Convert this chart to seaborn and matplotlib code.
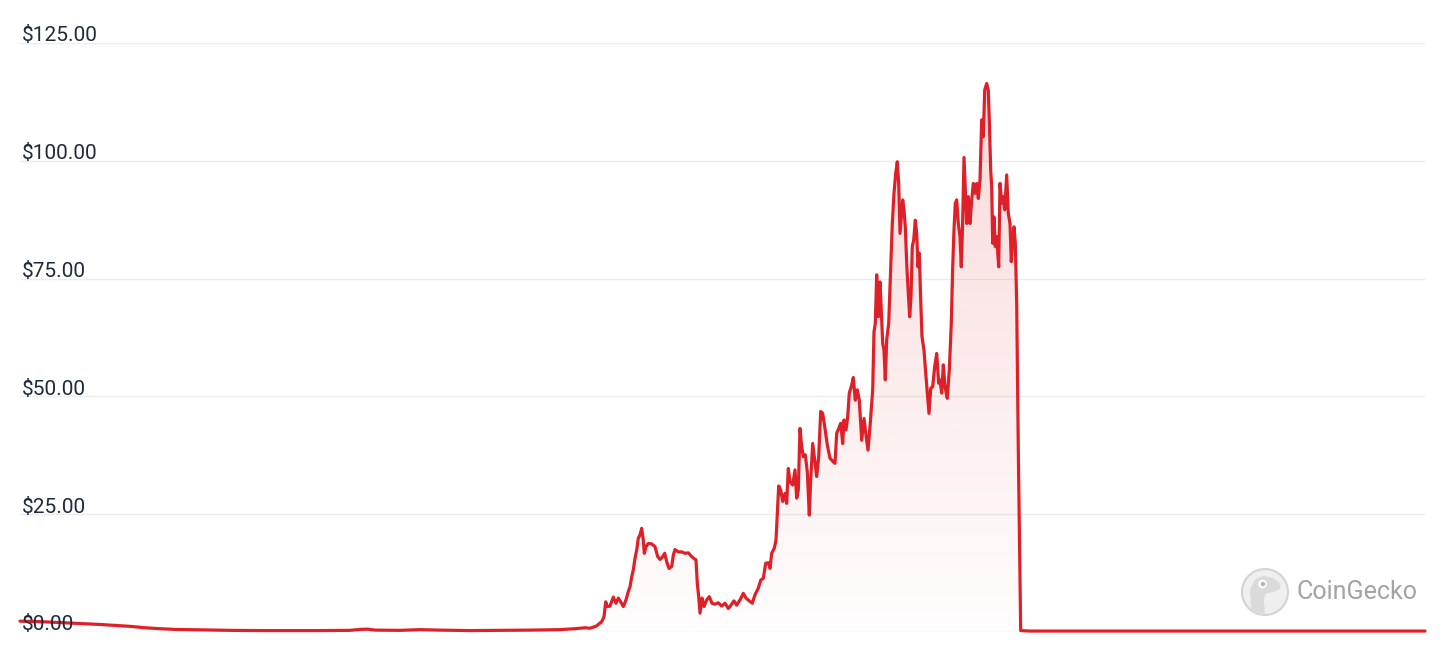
import numpy as np
import pandas as pd
import matplotlib.pyplot as plt
import matplotlib.patches as mpatches
import seaborn as sns

# price history (day index from first point, USD)
days = [0, 20, 40, 60, 80, 95, 110, 125, 140, 155, 180, 210, 240, 270, 300, 330, 340, 348, 355,
        380, 400, 420, 450, 480, 510, 540, 555, 565, 570, 573, 576.7, 581.7, 584, 585.7, 587.3,
        590, 593.3, 596, 598.3, 600.7, 603.3, 606, 608.3, 610, 611.7, 613.3, 615, 616.7, 618.3,
        620, 621.7, 623.3, 624.3, 626, 628.3, 631.7, 635, 637.7, 640, 642.7, 644.7, 646.7, 649,
        651.7, 653.3, 655, 658.3, 661.7, 665, 668.3, 671.7, 674, 676, 677.3, 678.7, 680, 682,
        684, 686.7, 689.3, 692, 695, 698.3, 701.7, 705, 708.3,
        710, 714, 716.7, 720, 723.3, 726, 729.3, 732.3, 735, 738.3, 740.7, 743.3, 745.7, 748.3,
        750, 751.7, 754.3, 756, 757.3, 758.7, 760.7, 762.7, 765, 766.7, 768.3, 770, 772.7, 775,
        776.7, 778.3, 780, 781.7, 783.3, 785.3, 787.3, 789.3, 790.7, 792.7, 794.7, 796.7, 798.7,
        800.7, 802.7, 805, 807.3, 810, 813.3, 815, 816.7, 818.7, 820.7, 822.7, 824, 826, 827.7,
        829.3, 831.7, 833.3, 835.3, 837.3, 839.3,
        841.7, 844, 846, 848, 850, 852.7, 854, 855.3, 856.7, 858.3, 860, 861.3, 862.7, 864,
        865.3, 866.7, 868.7, 870.7, 872.3, 874, 875.7, 877.3, 878.7, 880, 881.3, 882.7, 884,
        885.3, 886.7, 888.3, 889.7, 891, 892.3, 893.7, 895.3, 896.7, 898, 899.3, 900.7, 902,
        904, 906, 907.7, 909, 910.7, 912.7, 914.7, 916.7, 918.7,
        920, 921.7, 923.3, 925, 927.3, 929.3, 931.3, 932.7, 934, 935.3, 936.7, 938.3, 940,
        941.3, 942.7, 944, 945.3, 946.7, 948.3, 950, 951.7, 953.3, 955, 956.7, 958.3, 960,
        961.7, 963.3, 964.7, 966.7, 968.3, 969.3, 970.7, 971.7, 972.7, 974, 975.3, 976.7,
        978.7, 980, 981.7, 983.3, 984.7, 986.7, 988.3, 990, 991.3, 992.7, 994, 995.3, 996.7,
        998.3, 1000.7, 1010, 1405]

prices = [2.3, 2.2, 2.0, 1.8, 1.6, 1.4, 1.2, 0.9, 0.7, 0.55, 0.45, 0.35, 0.3, 0.3, 0.3, 0.35, 0.55,
          0.6, 0.4, 0.35, 0.5, 0.4, 0.3, 0.35, 0.4, 0.5, 0.7, 0.9, 0.8, 1.0, 1.3, 2.2, 3.2, 6.4,
          5.4, 5.5, 7.4, 6.1, 7.2, 6.4, 5.4, 6.8, 8.6, 9.6, 11.7, 13.2, 15.6, 17.4, 19.9, 20.6,
          22.0, 19.5, 16.7, 18.1, 18.8, 18.7, 18.1, 16.0, 15.4, 16.0, 16.7, 14.9, 13.5, 13.9,
          16.3, 17.5, 17.0, 17.0, 16.7, 16.8, 16.0, 15.6, 15.3, 10.3, 7.5, 4.0, 7.2, 5.4, 6.8,
          7.5, 6.1, 5.9, 6.2, 5.5, 6.1, 5.0,
          5.4, 6.6, 5.7, 6.8, 8.2, 7.2, 6.6, 6.1, 7.9, 9.3, 11.0, 11.4, 14.6, 14.7, 13.5, 16.7,
          17.8, 19.5, 25.2, 31.0, 30.1, 27.7, 29.4, 27.3, 34.7, 31.9, 31.2, 34.4, 28.4, 30.1,
          43.2, 39.3, 37.2, 37.6, 34.0, 24.8, 32.3, 40.0, 36.5, 33.0, 37.2, 46.8, 46.4, 43.2,
          39.7, 36.9, 36.1, 35.8, 42.2, 43.2, 44.3, 40.0, 45.0, 42.9, 45.7, 50.7, 52.4, 54.0,
          49.2, 51.4, 49.2,
          40.7, 45.3, 41.8, 38.6, 43.6, 51.4, 63.7, 65.5, 75.8, 66.9, 74.3, 68.3, 61.3, 59.8,
          53.5, 62.0, 65.5, 77.5, 86.7, 93.1, 97.3, 99.8, 95.2, 84.6, 88.1, 91.7, 89.6, 86.0,
          78.2, 71.9, 66.9, 71.2, 81.8, 83.2, 87.4, 84.6, 77.5, 80.4, 70.5, 62.7, 59.8, 54.2,
          49.9, 46.4, 51.7, 52.1, 56.3, 59.1, 52.8,
          53.5, 50.7, 56.7, 52.1, 49.6, 55.6, 65.5, 77.5, 85.3, 91.0, 91.7, 86.7, 83.9, 77.5,
          87.4, 100.7, 93.8, 86.7, 92.4, 86.7, 91.7, 95.2, 93.1, 95.2, 92.0, 95.9, 108.7,
          105.1, 115.0, 116.4, 115.0, 108.7, 98.0, 94.5, 82.5, 88.1, 81.8, 83.9, 77.5, 95.2,
          91.0, 92.4, 89.6, 97.0, 88.8, 86.7, 78.6, 83.2, 86.0, 82.5, 69.7, 38.6, 0.3, 0.2, 0.2]

tick_values = [0, 25, 50, 75, 100, 125]
tick_labels = ["$0.00", "$25.00", "$50.00", "$75.00", "$100.00", "$125.00"]

df = pd.DataFrame({"day": days, "price": prices})

sns.set_style("white")
plt.rcParams["font.family"] = ["Roboto", "DejaVu Sans"]

fig = plt.figure(figsize=(14.56, 6.51), dpi=100)
ax = fig.add_axes([20 / 1456, 1 - 632 / 651, 1405 / 1456, 589 / 651])

red = "#de2128"

# gradient fill under the line
top = df["price"].max()
alpha = np.linspace(0.01, 0.17, 256)
grad = np.zeros((256, 1, 4))
grad[:, 0, 0] = 225 / 255
grad[:, 0, 1] = 30 / 255
grad[:, 0, 2] = 35 / 255
grad[:, 0, 3] = alpha
img = ax.imshow(grad, origin="lower", aspect="auto",
                extent=[df["day"].min(), df["day"].max(), 0, top], zorder=1)
poly = ax.fill_between(df["day"], df["price"], 0, facecolor="none", edgecolor="none")
img.set_clip_path(poly.get_paths()[0], transform=ax.transData)

sns.lineplot(data=df, x="day", y="price", ax=ax, color=red, linewidth=2.3,
             sort=False, estimator=None, zorder=3, clip_on=False)

ax.set_xlim(df["day"].min(), df["day"].max())
ax.set_ylim(0, 125)
ax.set_yticks(tick_values)
ax.set_xticks([])
ax.yaxis.grid(True, color="#ececec", linewidth=1)
ax.tick_params(left=False, labelleft=False, bottom=False, labelbottom=False)
for s in ax.spines.values():
    s.set_visible(False)
ax.set_xlabel("")
ax.set_ylabel("")

trans = ax.get_yaxis_transform()
for v, lab in zip(tick_values, tick_labels):
    ax.text(0.0015, v + 0.35, lab, transform=trans, ha="left", va="baseline",
            fontsize=15, color="#1e2a3b", zorder=5)

# CoinGecko watermark
lax = fig.add_axes([1240 / 1456, 1 - 617 / 651, 50 / 1456, 50 / 651])
lax.set_aspect("equal")
lax.set_xlim(-1, 1)
lax.set_ylim(-1, 1)
lax.axis("off")
lax.add_patch(mpatches.Circle((0, 0), 0.92, facecolor="#efefef", edgecolor="#d4d4d4", linewidth=1.5))
head = [(-0.55, -0.8), (-0.6, 0.1), (-0.4, 0.5), (-0.05, 0.65), (0.35, 0.55), (0.6, 0.35),
        (0.62, 0.15), (0.4, 0.02), (0.05, -0.05), (-0.05, -0.3), (0.0, -0.85)]
lax.add_patch(mpatches.Polygon(head, closed=True, facecolor="#dadada", edgecolor="none"))
lax.add_patch(mpatches.Circle((-0.1, 0.32), 0.17, facecolor="white", edgecolor="none"))
lax.add_patch(mpatches.Circle((-0.08, 0.32), 0.09, facecolor="#b5b5b5", edgecolor="none"))
fig.text(1297 / 1456, 1 - 592 / 651, "CoinGecko", ha="left", va="center",
         fontsize=18, color="#a3a3a3")

fig.savefig("out.png", dpi=100)
